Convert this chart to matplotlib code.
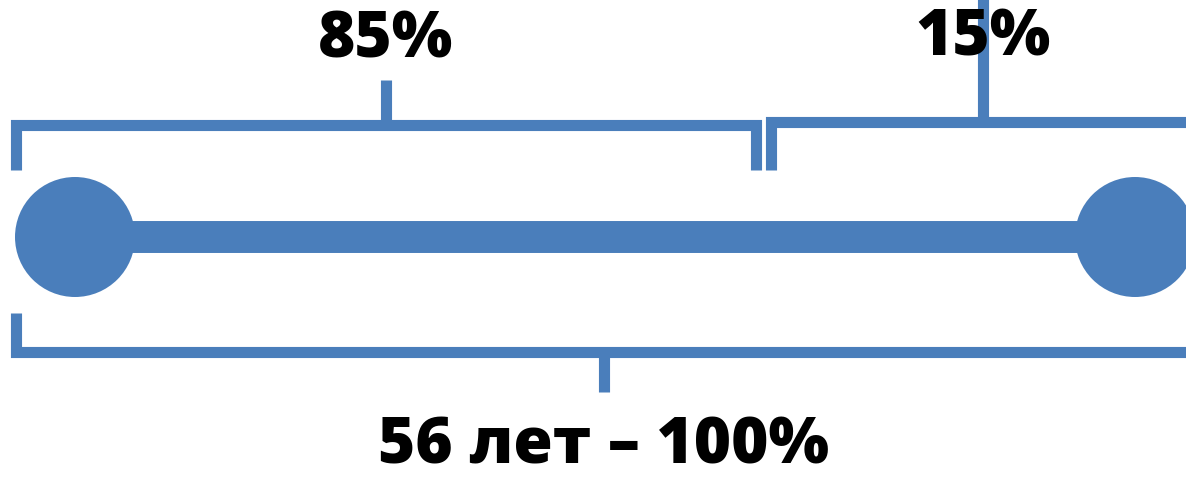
import matplotlib.pyplot as plt
from matplotlib.patches import Circle

# Data
shares = [85, 15]
share_labels = [f"{s}%" for s in shares]
total_years = 56
total_label = f"{total_years} лет – 100%"

blue = "#4a7ebb"

fig = plt.figure(figsize=(11.86, 4.8), dpi=100)
ax = fig.add_axes([0, 0, 1, 1])
ax.set_xlim(0, 1186)
ax.set_ylim(480, 0)
ax.axis("off")

# timeline
ax.plot([75, 1135], [237, 237], color=blue, lw=23, solid_capstyle="butt")
for cx in [75, 1135]:
    ax.add_patch(Circle((cx, 237), 60, color=blue, lw=0))

lw = 8
# top brackets
ax.plot([16, 16, 756, 756], [170, 125, 125, 170], color=blue, lw=lw,
        solid_joinstyle="miter", solid_capstyle="butt")
ax.plot([386, 386], [125, 80], color=blue, lw=lw, solid_capstyle="butt")
ax.plot([771, 771, 1200], [170, 122, 122], color=blue, lw=lw,
        solid_joinstyle="miter", solid_capstyle="butt")
ax.plot([983, 983], [122, -5], color=blue, lw=lw, solid_capstyle="butt")

# bottom bracket
ax.plot([16, 16, 1200], [313, 352, 352], color=blue, lw=lw,
        solid_joinstyle="miter", solid_capstyle="butt")
ax.plot([604, 604], [352, 392], color=blue, lw=lw, solid_capstyle="butt")

font = dict(family="Open Sans", weight=800, fontsize=46, color="black",
            ha="center", va="center")
ax.text(386, 41, share_labels[0], **font)
ax.text(983, 38, share_labels[1], **font)
ax.text(604, 446, total_label, **font)

fig.savefig("out.png", dpi=100)
